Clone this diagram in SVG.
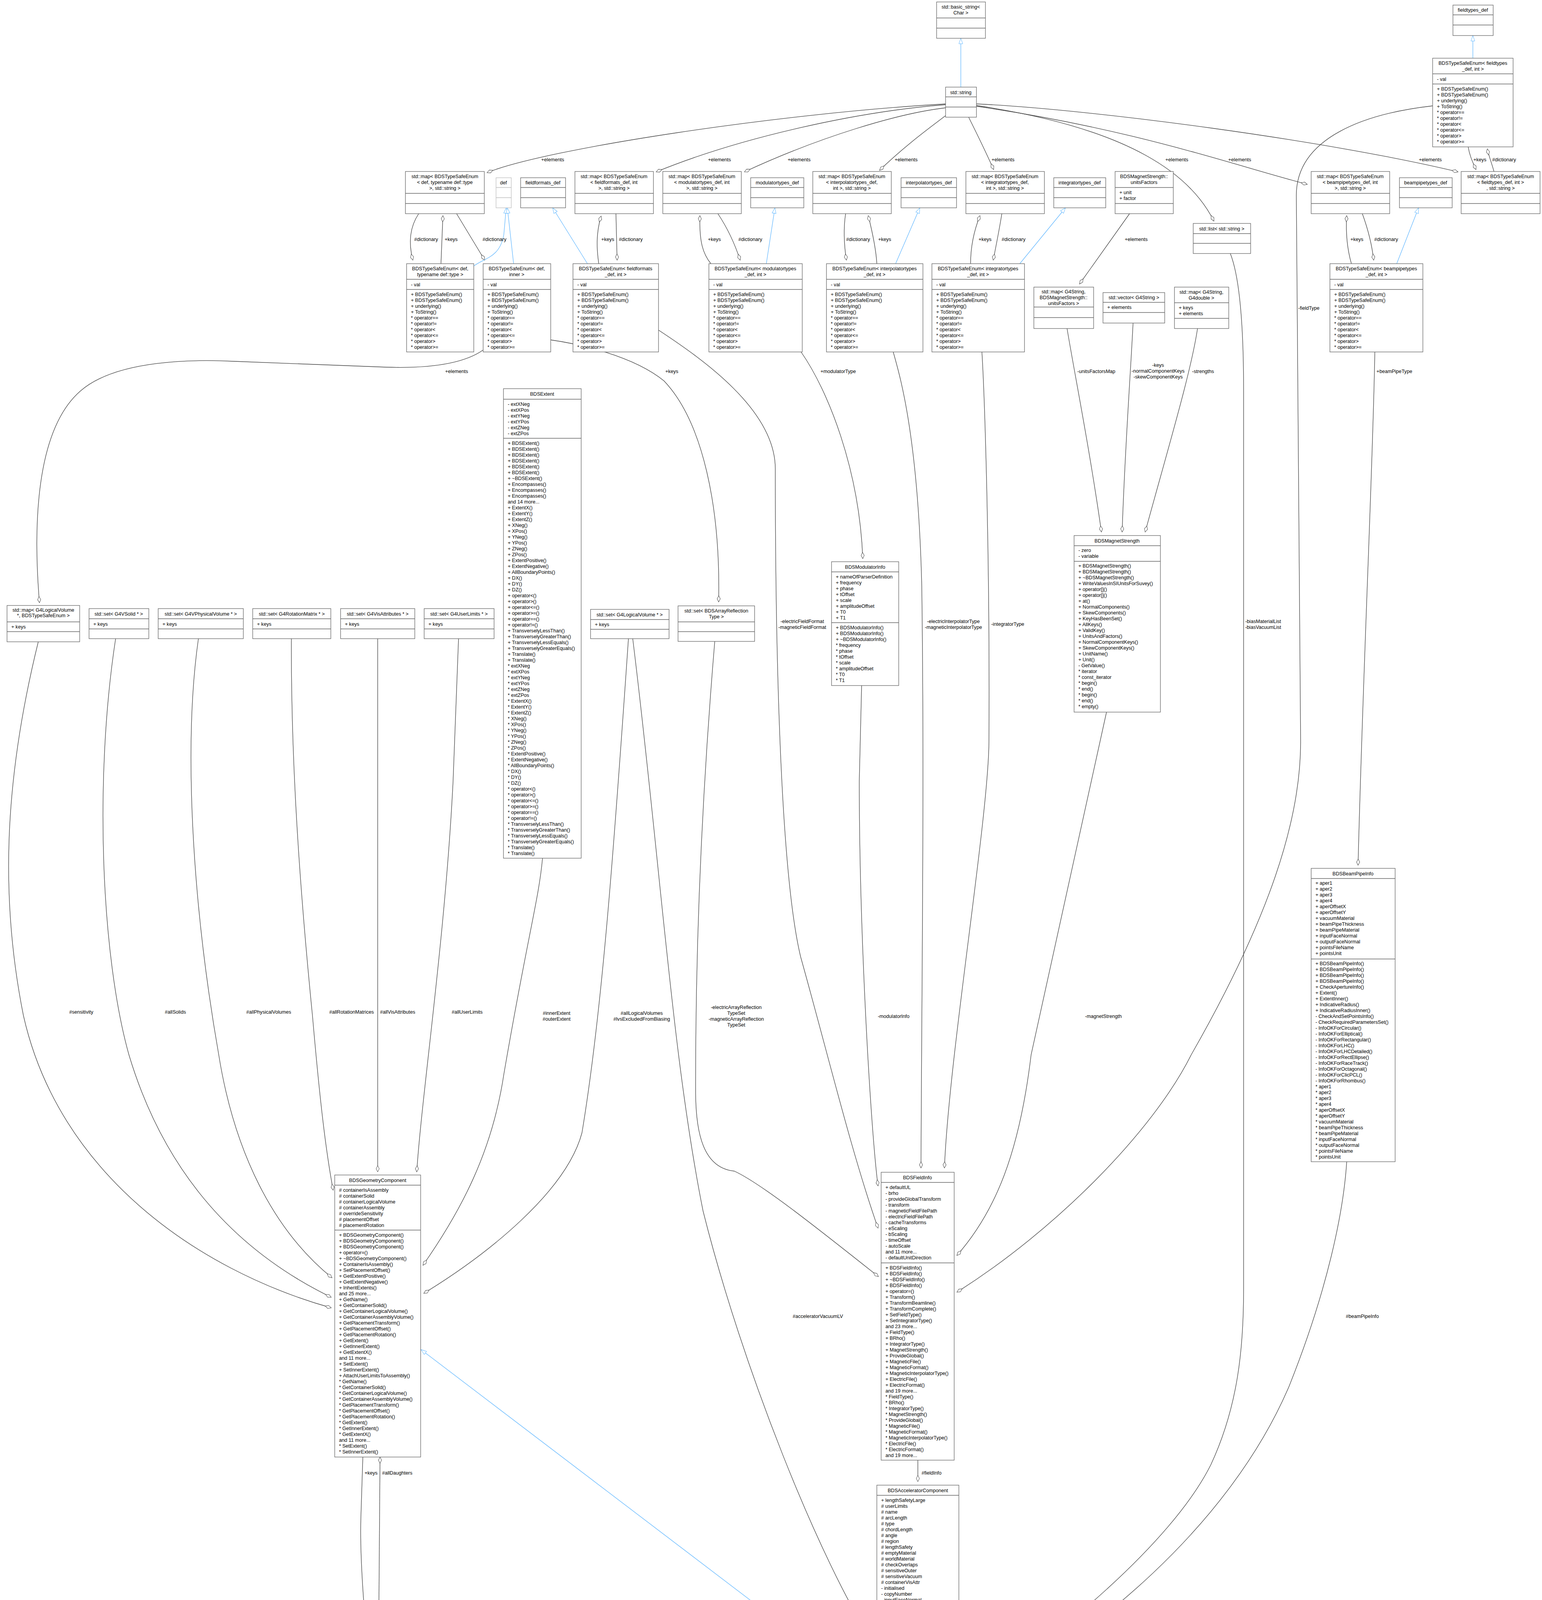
<svg xmlns="http://www.w3.org/2000/svg" width="3948" height="6014" viewBox="0 0 3948 6014">
<style>
.b{fill:#fff;stroke:#666;stroke-width:1.3}
.g{fill:#fff;stroke:#bfbfbf;stroke-width:1.3}
.h{fill:#999;stroke:#666;stroke-width:1.3}
.l{stroke:#666;stroke-width:1.3}
text{font-family:"Liberation Sans",Arial,sans-serif;font-size:12.6px;fill:#000}
.c{text-anchor:middle}
.e{fill:none;stroke:#404040;stroke-width:1.3}
.i{fill:none;stroke:#63b8ff;stroke-width:1.3}
</style>
<defs>
<marker id="d" markerWidth="18" markerHeight="10" refX="1" refY="5" orient="auto" markerUnits="userSpaceOnUse"><path d="M1,5 L9,1 L17,5 L9,9 Z" fill="#fff" stroke="#404040"/></marker>
<marker id="a" markerWidth="16" markerHeight="12" refX="15" refY="6" orient="auto" markerUnits="userSpaceOnUse"><path d="M1,1 L15,6 L1,11 Z" fill="#fff" stroke="#63b8ff"/></marker>
</defs>
<rect width="3948" height="6014" fill="#fff"/>

<g id="edges">
<g marker-start="url(#d)" class="e">
<path d="M1247,442 C1400,380 2000,290 2421,266"/>
<path d="M1680,440 C1900,350 2200,285 2421,268"/>
<path d="M1906,440 C2100,350 2300,290 2421,276"/>
<path d="M2252,436 C2320,370 2390,320 2421,296"/>
<path d="M2544,434 C2520,380 2495,330 2480,300"/>
<path d="M3108,566 C3050,450 2900,330 2500,270"/>
<path d="M3347,472 C3150,420 2900,330 2500,272"/>
<path d="M3733,440 C3400,360 2800,280 2500,266"/>
<path d="M1057,666 C1045,620 1050,580 1072,547"/>
<path d="M1134,552 L1129,675"/>
<path d="M1241,666 L1169,547"/>
<path d="M1539,553 C1525,600 1528,640 1533,675"/>
<path d="M1580,666 L1577,547"/>
<path d="M1792,552 C1790,620 1800,650 1820,675"/>
<path d="M1895,666 C1880,620 1860,580 1838,547"/>
<path d="M2167,666 C2160,620 2160,580 2165,547"/>
<path d="M2223,552 C2235,600 2243,640 2245,675"/>
<path d="M2509,552 C2490,600 2485,640 2485,675"/>
<path d="M2543,666 C2552,620 2560,580 2565,547"/>
<path d="M3448,552 C3445,600 3450,640 3460,675"/>
<path d="M3517,666 C3512,620 3500,580 3488,547"/>
<path d="M3779,434 C3768,410 3762,395 3759,376"/>
<path d="M3808,381 C3812,400 3820,420 3825,439"/>
<path d="M2764,727 L2892,547"/>
<path d="M101,1543 C85,1350 90,1100 207,1000 C300,920 500,920 600,925 L990,940 C1150,945 1210,915 1237,896"/>
<path d="M1840,1541 C1845,1300 1800,1080 1700,975 C1620,910 1480,880 1409,870"/>
<path d="M2248,3144 C2180,2950 2120,2700 2050,2450 C1990,2200 1985,1500 1985,1200 C1985,1050 1800,920 1686,845"/>
<path d="M2209,1430 C2200,1200 2120,1000 2051,901"/>
<path d="M2248,3036 C2230,2900 2200,2400 2200,2000 L2206,1755"/>
<path d="M2358,2990 C2360,2500 2367,2000 2360,1500 C2350,1100 2300,950 2287,901"/>
<path d="M2418,2990 C2430,2700 2530,2100 2532,1900 C2535,1400 2520,1000 2514,901"/>
<path d="M2450,3214 C2550,3100 2610,2950 2640,2700 L2833,1823"/>
<path d="M2450,3308 C2700,3150 2950,2900 3050,2700 C3250,2350 3330,2100 3330,1900 L3319,500 C3319,350 3500,290 3668,271"/>
<path d="M2460,4355 C2700,4200 3000,3950 3100,3750 C3170,3600 3184,3450 3184,3300 L3184,1000 C3184,800 3170,700 3150,649"/>
<path d="M2461,4371 C2800,4200 3150,3900 3300,3550 C3400,3300 3440,3100 3448,2974"/>
<path d="M3477,2215 C3490,1700 3515,1200 3520,901"/>
<path d="M2820,1362 C2790,1150 2750,950 2732,841"/>
<path d="M2873,1362 C2880,1150 2895,950 2901,827"/>
<path d="M2932,1362 C2990,1150 3050,950 3066,841"/>
<path d="M848,3348 C500,3250 150,3000 60,2600 C0,2300 10,2000 98,1643"/>
<path d="M848,3321 C600,3200 420,3000 330,2700 C260,2450 240,2000 296,1635"/>
<path d="M850,3271 C700,3150 600,2950 560,2700 C490,2300 470,1900 508,1635"/>
<path d="M853,3047 C835,2950 820,2830 800,2600 C760,2200 745,1900 746,1635"/>
<path d="M967,3000 L967,1635"/>
<path d="M1067,3000 C1080,2800 1140,2400 1160,2000 L1174,1635"/>
<path d="M1083,3239 C1180,3100 1260,2950 1290,2750 C1350,2400 1380,2300 1389,2197"/>
<path d="M1085,3311 C1250,3210 1450,3050 1490,2900 C1540,2600 1570,2200 1609,1635"/>
<path d="M2240,4213 C2100,4000 1900,3500 1800,3100 C1720,2700 1690,2200 1620,1635"/>
<path d="M2249,3268 C2100,3150 1950,3030 1880,2998 C1800,2990 1782,2900 1781,2800 C1780,2400 1800,2000 1830,1642"/>
<path d="M962,4388 C940,4250 920,4000 924,3884 L929,3730"/>
<path d="M973,3730 L968,4388"/>
<path d="M2350,3793 L2350,3738"/>
<path d="M2344,5049 C2350,5150 2380,5280 2428,5361"/>
</g>
<g marker-end="url(#a)" class="i">
<path d="M2460,223 L2460,98"/>
<path d="M1213,681 C1240,660 1280,660 1290,600 L1296,532"/>
<path d="M1315,675 L1299,532"/>
<path d="M1504,675 L1415,532"/>
<path d="M1962,675 L1984,532"/>
<path d="M2293,675 L2355,532"/>
<path d="M2611,675 L2728,532"/>
<path d="M3576,675 L3632,532"/>
<path d="M3771,149 L3771,91"/>
<path d="M2245,4343 L1078,3455"/>
<path d="M2270,5129 L2278,5049"/>
<path d="M2466,5361 C2460,5250 2452,5150 2448,5049"/>
<path d="M2233,5826 L2233,5774"/>
</g>
<g class="c">
<text x="1415" y="413">+elements</text><text x="1842" y="413">+elements</text><text x="2046" y="413">+elements</text><text x="2320" y="413">+elements</text><text x="2568" y="413">+elements</text><text x="3013" y="413">+elements</text><text x="3174" y="413">+elements</text><text x="3662" y="413">+elements</text>
<text x="3789" y="413">+keys</text><text x="3851" y="413">#dictionary</text>
<text x="1091" y="617">#dictionary</text><text x="1155" y="617">+keys</text><text x="1266" y="617">#dictionary</text><text x="1556" y="617">+keys</text><text x="1615" y="617">#dictionary</text><text x="1829" y="617">+keys</text><text x="1921" y="617">#dictionary</text><text x="2197" y="617">#dictionary</text><text x="2265" y="617">+keys</text><text x="2522" y="617">+keys</text><text x="2595" y="617">#dictionary</text><text x="2909" y="617">+elements</text><text x="3474" y="617">+keys</text><text x="3549" y="617">#dictionary</text>
<text x="3351" y="793">-fieldType</text>
<text x="1169" y="955">+elements</text><text x="1720" y="955">+keys</text><text x="2146" y="955">+modulatorType</text><text x="2807" y="955">-unitsFactorsMap</text><text x="3080" y="955">-strengths</text><text x="3570" y="955">+beamPipeType</text>
<text x="2965" y="939">-keys</text><text x="2965" y="954">-normalComponentKeys</text><text x="2965" y="969">-skewComponentKeys</text>
<text x="2054" y="1595">-electricFieldFormat</text><text x="2054" y="1610">-magneticFieldFormat</text>
<text x="2441" y="1595">-electricInterpolatorType</text><text x="2441" y="1610">-magneticInterpolatorType</text>
<text x="2580" y="1602">-integratorType</text>
<text x="3234" y="1595">-biasMaterialList</text><text x="3234" y="1610">-biasVacuumList</text>
<text x="208" y="2595">#sensitivity</text><text x="449" y="2595">#allSolids</text><text x="688" y="2595">#allPhysicalVolumes</text><text x="900" y="2595">#allRotationMatrices</text><text x="1018" y="2595">#allVisAttributes</text><text x="1196" y="2595">#allUserLimits</text>
<text x="1425" y="2598">#innerExtent</text><text x="1425" y="2613">#outerExtent</text>
<text x="1643" y="2598">#allLogicalVolumes</text><text x="1643" y="2613">#lvsExcludedFromBiasing</text>
<text x="1885" y="2583">-electricArrayReflection</text><text x="1885" y="2598">TypeSet</text><text x="1885" y="2613">-magneticArrayReflection</text><text x="1885" y="2628">TypeSet</text>
<text x="2288" y="2606">-modulatorInfo</text><text x="2825" y="2606">-magnetStrength</text>
<text x="2094" y="3374">#acceleratorVacuumLV</text><text x="3488" y="3374">#beamPipeInfo</text>
<text x="950" y="3775">+keys</text><text x="1017" y="3775">#allDaughters</text><text x="2385" y="3775">#fieldInfo</text>
<text x="2400" y="5085">#endPieceAfter</text><text x="2400" y="5100">#endPieceBefore</text>
</g>
</g>

<g id="basic_string"><rect class="b" x="2398" y="5" width="125" height="93"/><path class="l" d="M2398,46H2523M2398,72H2523"/><text class="c" x="2460" y="22">std::basic_string&lt;</text><text class="c" x="2460" y="37">Char &gt;</text></g>
<g id="string"><rect class="b" x="2421" y="223" width="79" height="77"/><path class="l" d="M2421,248H2500M2421,274H2500"/><text class="c" x="2460" y="241">std::string</text></g>

<g id="map_def"><rect class="b" x="1038" y="439" width="202" height="108"/><path class="l" d="M1038,495H1240M1038,521H1240"/><text class="c" x="1139" y="456">std::map&lt; BDSTypeSafeEnum</text><text class="c" x="1139" y="471">&lt; def, typename def::type</text><text class="c" x="1139" y="486">&gt;, std::string &gt;</text></g>
<g id="def"><rect class="g" x="1270" y="455" width="39" height="77"/><path d="M1270,480H1309M1270,506H1309" stroke="#bfbfbf" stroke-width="1.3"/><text class="c" x="1289" y="472">def</text></g>
<g id="fieldformats_def"><rect class="b" x="1333" y="455" width="115" height="77"/><path class="l" d="M1333,480H1448M1333,506H1448"/><text class="c" x="1390" y="472">fieldformats_def</text></g>
<g id="map_fieldformats"><rect class="b" x="1472" y="439" width="201" height="108"/><path class="l" d="M1472,495H1673M1472,521H1673"/><text class="c" x="1572" y="456">std::map&lt; BDSTypeSafeEnum</text><text class="c" x="1572" y="471">&lt; fieldformats_def, int</text><text class="c" x="1572" y="486">&gt;, std::string &gt;</text></g>
<g id="map_modulatortypes"><rect class="b" x="1697" y="439" width="201" height="108"/><path class="l" d="M1697,495H1898M1697,521H1898"/><text class="c" x="1797" y="456">std::map&lt; BDSTypeSafeEnum</text><text class="c" x="1797" y="471">&lt; modulatortypes_def, int</text><text class="c" x="1797" y="486">&gt;, std::string &gt;</text></g>
<g id="modulatortypes_def"><rect class="b" x="1922" y="455" width="136" height="77"/><path class="l" d="M1922,480H2058M1922,506H2058"/><text class="c" x="1990" y="472">modulatortypes_def</text></g>
<g id="map_interpolatortypes"><rect class="b" x="2081" y="439" width="201" height="108"/><path class="l" d="M2081,495H2282M2081,521H2282"/><text class="c" x="2181" y="456">std::map&lt; BDSTypeSafeEnum</text><text class="c" x="2181" y="471">&lt; interpolatortypes_def,</text><text class="c" x="2181" y="486">int &gt;, std::string &gt;</text></g>
<g id="interpolatortypes_def"><rect class="b" x="2307" y="455" width="142" height="77"/><path class="l" d="M2307,480H2449M2307,506H2449"/><text class="c" x="2378" y="472">interpolatortypes_def</text></g>
<g id="map_integratortypes"><rect class="b" x="2473" y="439" width="201" height="108"/><path class="l" d="M2473,495H2674M2473,521H2674"/><text class="c" x="2573" y="456">std::map&lt; BDSTypeSafeEnum</text><text class="c" x="2573" y="471">&lt; integratortypes_def,</text><text class="c" x="2573" y="486">int &gt;, std::string &gt;</text></g>
<g id="integratortypes_def"><rect class="b" x="2698" y="455" width="133" height="77"/><path class="l" d="M2698,480H2831M2698,506H2831"/><text class="c" x="2764" y="472">integratortypes_def</text></g>
<g id="unitsFactors"><rect class="b" x="2855" y="439" width="149" height="108"/><path class="l" d="M2855,480H3004M2855,521H3004"/><text class="c" x="2929" y="456">BDSMagnetStrength::</text><text class="c" x="2929" y="471">unitsFactors</text><text x="2866" y="497">+ unit</text><text x="2866" y="512">+ factor</text></g>
<g id="list_string"><rect class="b" x="3055" y="572" width="147" height="77"/><path class="l" d="M3055,598H3202M3055,623H3202"/><text class="c" x="3128" y="590">std::list&lt; std::string &gt;</text></g>
<g id="map_beampipetypes"><rect class="b" x="3357" y="439" width="201" height="108"/><path class="l" d="M3357,495H3558M3357,521H3558"/><text class="c" x="3457" y="456">std::map&lt; BDSTypeSafeEnum</text><text class="c" x="3457" y="471">&lt; beampipetypes_def, int</text><text class="c" x="3457" y="486">&gt;, std::string &gt;</text></g>
<g id="beampipetypes_def"><rect class="b" x="3583" y="455" width="135" height="77"/><path class="l" d="M3583,480H3718M3583,506H3718"/><text class="c" x="3650" y="472">beampipetypes_def</text></g>
<g id="map_fieldtypes"><rect class="b" x="3741" y="439" width="202" height="108"/><path class="l" d="M3741,495H3943M3741,521H3943"/><text class="c" x="3842" y="456">std::map&lt; BDSTypeSafeEnum</text><text class="c" x="3842" y="471">&lt; fieldtypes_def, int &gt;</text><text class="c" x="3842" y="486">, std::string &gt;</text></g>
<g id="fieldtypes_def"><rect class="b" x="3720" y="13" width="103" height="78"/><path class="l" d="M3720,38H3823M3720,64H3823"/><text class="c" x="3771" y="30">fieldtypes_def</text></g>

<g id="enum_fieldtypes"><rect class="b" x="3668" y="149" width="206" height="227"/><path class="l" d="M3668,189H3874M3668,215H3874"/><text class="c" x="3771" y="166">BDSTypeSafeEnum&lt; fieldtypes</text><text class="c" x="3771" y="181">_def, int &gt;</text><text x="3679" y="207">- val</text><text y="232"><tspan x="3679">+ BDSTypeSafeEnum()</tspan><tspan x="3679" dy="15">+ BDSTypeSafeEnum()</tspan><tspan x="3679" dy="15">+ underlying()</tspan><tspan x="3679" dy="15">+ ToString()</tspan><tspan x="3679" dy="15">* operator==</tspan><tspan x="3679" dy="15">* operator!=</tspan><tspan x="3679" dy="15">* operator&lt;</tspan><tspan x="3679" dy="15">* operator&lt;=</tspan><tspan x="3679" dy="15">* operator&gt;</tspan><tspan x="3679" dy="15">* operator&gt;=</tspan></text></g>

<g id="enum_def_type"><rect class="b" x="1041" y="675" width="172" height="226"/><path class="l" d="M1041,715H1213M1041,741H1213"/><text class="c" x="1127" y="692">BDSTypeSafeEnum&lt; def,</text><text class="c" x="1127" y="707">typename def::type &gt;</text><text x="1052" y="733">- val</text><text y="758"><tspan x="1052">+ BDSTypeSafeEnum()</tspan><tspan x="1052" dy="15">+ BDSTypeSafeEnum()</tspan><tspan x="1052" dy="15">+ underlying()</tspan><tspan x="1052" dy="15">+ ToString()</tspan><tspan x="1052" dy="15">* operator==</tspan><tspan x="1052" dy="15">* operator!=</tspan><tspan x="1052" dy="15">* operator&lt;</tspan><tspan x="1052" dy="15">* operator&lt;=</tspan><tspan x="1052" dy="15">* operator&gt;</tspan><tspan x="1052" dy="15">* operator&gt;=</tspan></text></g>
<g id="enum_def_inner"><rect class="b" x="1237" y="675" width="173" height="226"/><path class="l" d="M1237,715H1410M1237,741H1410"/><text class="c" x="1323" y="692">BDSTypeSafeEnum&lt; def,</text><text class="c" x="1323" y="707">inner &gt;</text><text x="1248" y="733">- val</text><text y="758"><tspan x="1248">+ BDSTypeSafeEnum()</tspan><tspan x="1248" dy="15">+ BDSTypeSafeEnum()</tspan><tspan x="1248" dy="15">+ underlying()</tspan><tspan x="1248" dy="15">+ ToString()</tspan><tspan x="1248" dy="15">* operator==</tspan><tspan x="1248" dy="15">* operator!=</tspan><tspan x="1248" dy="15">* operator&lt;</tspan><tspan x="1248" dy="15">* operator&lt;=</tspan><tspan x="1248" dy="15">* operator&gt;</tspan><tspan x="1248" dy="15">* operator&gt;=</tspan></text></g>
<g id="enum_fieldformats"><rect class="b" x="1467" y="675" width="219" height="226"/><path class="l" d="M1467,715H1686M1467,741H1686"/><text class="c" x="1576" y="692">BDSTypeSafeEnum&lt; fieldformats</text><text class="c" x="1576" y="707">_def, int &gt;</text><text x="1478" y="733">- val</text><text y="758"><tspan x="1478">+ BDSTypeSafeEnum()</tspan><tspan x="1478" dy="15">+ BDSTypeSafeEnum()</tspan><tspan x="1478" dy="15">+ underlying()</tspan><tspan x="1478" dy="15">+ ToString()</tspan><tspan x="1478" dy="15">* operator==</tspan><tspan x="1478" dy="15">* operator!=</tspan><tspan x="1478" dy="15">* operator&lt;</tspan><tspan x="1478" dy="15">* operator&lt;=</tspan><tspan x="1478" dy="15">* operator&gt;</tspan><tspan x="1478" dy="15">* operator&gt;=</tspan></text></g>
<g id="enum_modulatortypes"><rect class="b" x="1815" y="675" width="239" height="226"/><path class="l" d="M1815,715H2054M1815,741H2054"/><text class="c" x="1934" y="692">BDSTypeSafeEnum&lt; modulatortypes</text><text class="c" x="1934" y="707">_def, int &gt;</text><text x="1826" y="733">- val</text><text y="758"><tspan x="1826">+ BDSTypeSafeEnum()</tspan><tspan x="1826" dy="15">+ BDSTypeSafeEnum()</tspan><tspan x="1826" dy="15">+ underlying()</tspan><tspan x="1826" dy="15">+ ToString()</tspan><tspan x="1826" dy="15">* operator==</tspan><tspan x="1826" dy="15">* operator!=</tspan><tspan x="1826" dy="15">* operator&lt;</tspan><tspan x="1826" dy="15">* operator&lt;=</tspan><tspan x="1826" dy="15">* operator&gt;</tspan><tspan x="1826" dy="15">* operator&gt;=</tspan></text></g>
<g id="enum_interpolatortypes"><rect class="b" x="2116" y="675" width="247" height="226"/><path class="l" d="M2116,715H2363M2116,741H2363"/><text class="c" x="2239" y="692">BDSTypeSafeEnum&lt; interpolatortypes</text><text class="c" x="2239" y="707">_def, int &gt;</text><text x="2127" y="733">- val</text><text y="758"><tspan x="2127">+ BDSTypeSafeEnum()</tspan><tspan x="2127" dy="15">+ BDSTypeSafeEnum()</tspan><tspan x="2127" dy="15">+ underlying()</tspan><tspan x="2127" dy="15">+ ToString()</tspan><tspan x="2127" dy="15">* operator==</tspan><tspan x="2127" dy="15">* operator!=</tspan><tspan x="2127" dy="15">* operator&lt;</tspan><tspan x="2127" dy="15">* operator&lt;=</tspan><tspan x="2127" dy="15">* operator&gt;</tspan><tspan x="2127" dy="15">* operator&gt;=</tspan></text></g>
<g id="enum_integratortypes"><rect class="b" x="2386" y="675" width="237" height="226"/><path class="l" d="M2386,715H2623M2386,741H2623"/><text class="c" x="2504" y="692">BDSTypeSafeEnum&lt; integratortypes</text><text class="c" x="2504" y="707">_def, int &gt;</text><text x="2397" y="733">- val</text><text y="758"><tspan x="2397">+ BDSTypeSafeEnum()</tspan><tspan x="2397" dy="15">+ BDSTypeSafeEnum()</tspan><tspan x="2397" dy="15">+ underlying()</tspan><tspan x="2397" dy="15">+ ToString()</tspan><tspan x="2397" dy="15">* operator==</tspan><tspan x="2397" dy="15">* operator!=</tspan><tspan x="2397" dy="15">* operator&lt;</tspan><tspan x="2397" dy="15">* operator&lt;=</tspan><tspan x="2397" dy="15">* operator&gt;</tspan><tspan x="2397" dy="15">* operator&gt;=</tspan></text></g>
<g id="enum_beampipetypes"><rect class="b" x="3405" y="675" width="238" height="226"/><path class="l" d="M3405,715H3643M3405,741H3643"/><text class="c" x="3524" y="692">BDSTypeSafeEnum&lt; beampipetypes</text><text class="c" x="3524" y="707">_def, int &gt;</text><text x="3416" y="733">- val</text><text y="758"><tspan x="3416">+ BDSTypeSafeEnum()</tspan><tspan x="3416" dy="15">+ BDSTypeSafeEnum()</tspan><tspan x="3416" dy="15">+ underlying()</tspan><tspan x="3416" dy="15">+ ToString()</tspan><tspan x="3416" dy="15">* operator==</tspan><tspan x="3416" dy="15">* operator!=</tspan><tspan x="3416" dy="15">* operator&lt;</tspan><tspan x="3416" dy="15">* operator&lt;=</tspan><tspan x="3416" dy="15">* operator&gt;</tspan><tspan x="3416" dy="15">* operator&gt;=</tspan></text></g>

<g id="map_G4String_unitsFactors"><rect class="b" x="2647" y="735" width="153" height="106"/><path class="l" d="M2647,786H2800M2647,813H2800"/><text class="c" x="2723" y="751">std::map&lt; G4String,</text><text class="c" x="2723" y="766">BDSMagnetStrength::</text><text class="c" x="2723" y="781">unitsFactors &gt;</text></g>
<g id="vector_G4String"><rect class="b" x="2824" y="749" width="158" height="78"/><path class="l" d="M2824,774H2982M2824,800H2982"/><text class="c" x="2903" y="766">std::vector&lt; G4String &gt;</text><text x="2835" y="791">+ elements</text></g>
<g id="map_G4String_G4double"><rect class="b" x="3007" y="735" width="139" height="106"/><path class="l" d="M3007,775H3146M3007,815H3146"/><text class="c" x="3076" y="752">std::map&lt; G4String,</text><text class="c" x="3076" y="767">G4double &gt;</text><text x="3018" y="792">+ keys</text><text x="3018" y="807">+ elements</text></g>

<g id="map_G4LV_enum"><rect class="b" x="18" y="1550" width="186" height="93"/><path class="l" d="M18,1592H204M18,1617H204"/><text class="c" x="111" y="1566">std::map&lt; G4LogicalVolume</text><text class="c" x="111" y="1580">*, BDSTypeSafeEnum &gt;</text><text x="29" y="1609">+ keys</text></g>
<g id="set_G4VSolid"><rect class="b" x="228" y="1558" width="153" height="77"/><path class="l" d="M228,1584H381M228,1610H381"/><text class="c" x="304" y="1576">std::set&lt; G4VSolid * &gt;</text><text x="239" y="1602">+ keys</text></g>
<g id="set_G4VPhysicalVolume"><rect class="b" x="405" y="1558" width="218" height="77"/><path class="l" d="M405,1584H623M405,1610H623"/><text class="c" x="514" y="1576">std::set&lt; G4VPhysicalVolume * &gt;</text><text x="416" y="1602">+ keys</text></g>
<g id="set_G4RotationMatrix"><rect class="b" x="647" y="1558" width="200" height="77"/><path class="l" d="M647,1584H847M647,1610H847"/><text class="c" x="747" y="1576">std::set&lt; G4RotationMatrix * &gt;</text><text x="658" y="1602">+ keys</text></g>
<g id="set_G4VisAttributes"><rect class="b" x="872" y="1558" width="190" height="77"/><path class="l" d="M872,1584H1062M872,1610H1062"/><text class="c" x="967" y="1576">std::set&lt; G4VisAttributes * &gt;</text><text x="883" y="1602">+ keys</text></g>
<g id="set_G4UserLimits"><rect class="b" x="1086" y="1558" width="179" height="77"/><path class="l" d="M1086,1584H1265M1086,1610H1265"/><text class="c" x="1175" y="1576">std::set&lt; G4UserLimits * &gt;</text><text x="1097" y="1602">+ keys</text></g>
<g id="set_G4LogicalVolume"><rect class="b" x="1512" y="1560" width="201" height="75"/><path class="l" d="M1512,1586H1713M1512,1611H1713"/><text class="c" x="1612" y="1578">std::set&lt; G4LogicalVolume * &gt;</text><text x="1523" y="1603">+ keys</text></g>
<g id="set_ArrayReflection"><rect class="b" x="1736" y="1551" width="196" height="91"/><path class="l" d="M1736,1592H1932M1736,1617H1932"/><text class="c" x="1834" y="1568">std::set&lt; BDSArrayReflection</text><text class="c" x="1834" y="1583">Type &gt;</text></g>

<g id="BDSExtent"><rect class="b" x="1289" y="995" width="199" height="1202"/><path class="l" d="M1289,1022H1488M1289,1122H1488"/><text class="c" x="1388" y="1013">BDSExtent</text>
<text y="1039"><tspan x="1300">- extXNeg</tspan><tspan x="1300" dy="15">- extXPos</tspan><tspan x="1300" dy="15">- extYNeg</tspan><tspan x="1300" dy="15">- extYPos</tspan><tspan x="1300" dy="15">- extZNeg</tspan><tspan x="1300" dy="15">- extZPos</tspan></text>
<text y="1139"><tspan x="1300">+ BDSExtent()</tspan><tspan x="1300" dy="15">+ BDSExtent()</tspan><tspan x="1300" dy="15">+ BDSExtent()</tspan><tspan x="1300" dy="15">+ BDSExtent()</tspan><tspan x="1300" dy="15">+ BDSExtent()</tspan><tspan x="1300" dy="15">+ BDSExtent()</tspan><tspan x="1300" dy="15">+ ~BDSExtent()</tspan><tspan x="1300" dy="15">+ Encompasses()</tspan><tspan x="1300" dy="15">+ Encompasses()</tspan><tspan x="1300" dy="15">+ Encompasses()</tspan><tspan x="1300" dy="15">and 14 more...</tspan><tspan x="1300" dy="15">+ ExtentX()</tspan><tspan x="1300" dy="15">+ ExtentY()</tspan><tspan x="1300" dy="15">+ ExtentZ()</tspan><tspan x="1300" dy="15">+ XNeg()</tspan><tspan x="1300" dy="15">+ XPos()</tspan><tspan x="1300" dy="15">+ YNeg()</tspan><tspan x="1300" dy="15">+ YPos()</tspan><tspan x="1300" dy="15">+ ZNeg()</tspan><tspan x="1300" dy="15">+ ZPos()</tspan><tspan x="1300" dy="15">+ ExtentPositive()</tspan><tspan x="1300" dy="15">+ ExtentNegative()</tspan><tspan x="1300" dy="15">+ AllBoundaryPoints()</tspan><tspan x="1300" dy="15">+ DX()</tspan><tspan x="1300" dy="15">+ DY()</tspan><tspan x="1300" dy="15">+ DZ()</tspan><tspan x="1300" dy="15">+ operator&lt;()</tspan><tspan x="1300" dy="15">+ operator&gt;()</tspan><tspan x="1300" dy="15">+ operator&lt;=()</tspan><tspan x="1300" dy="15">+ operator&gt;=()</tspan><tspan x="1300" dy="15">+ operator==()</tspan><tspan x="1300" dy="15">+ operator!=()</tspan><tspan x="1300" dy="15">+ TransverselyLessThan()</tspan><tspan x="1300" dy="15">+ TransverselyGreaterThan()</tspan><tspan x="1300" dy="15">+ TransverselyLessEquals()</tspan><tspan x="1300" dy="15">+ TransverselyGreaterEquals()</tspan><tspan x="1300" dy="15">+ Translate()</tspan><tspan x="1300" dy="15">+ Translate()</tspan><tspan x="1300" dy="15">* extXNeg</tspan><tspan x="1300" dy="15">* extXPos</tspan><tspan x="1300" dy="15">* extYNeg</tspan><tspan x="1300" dy="15">* extYPos</tspan><tspan x="1300" dy="15">* extZNeg</tspan><tspan x="1300" dy="15">* extZPos</tspan><tspan x="1300" dy="15">* ExtentX()</tspan><tspan x="1300" dy="15">* ExtentY()</tspan><tspan x="1300" dy="15">* ExtentZ()</tspan><tspan x="1300" dy="15">* XNeg()</tspan><tspan x="1300" dy="15">* XPos()</tspan><tspan x="1300" dy="15">* YNeg()</tspan><tspan x="1300" dy="15">* YPos()</tspan><tspan x="1300" dy="15">* ZNeg()</tspan><tspan x="1300" dy="15">* ZPos()</tspan><tspan x="1300" dy="15">* ExtentPositive()</tspan><tspan x="1300" dy="15">* ExtentNegative()</tspan><tspan x="1300" dy="15">* AllBoundaryPoints()</tspan><tspan x="1300" dy="15">* DX()</tspan><tspan x="1300" dy="15">* DY()</tspan><tspan x="1300" dy="15">* DZ()</tspan><tspan x="1300" dy="15">* operator&lt;()</tspan><tspan x="1300" dy="15">* operator&gt;()</tspan><tspan x="1300" dy="15">* operator&lt;=()</tspan><tspan x="1300" dy="15">* operator&gt;=()</tspan><tspan x="1300" dy="15">* operator==()</tspan><tspan x="1300" dy="15">* operator!=()</tspan><tspan x="1300" dy="15">* TransverselyLessThan()</tspan><tspan x="1300" dy="15">* TransverselyGreaterThan()</tspan><tspan x="1300" dy="15">* TransverselyLessEquals()</tspan><tspan x="1300" dy="15">* TransverselyGreaterEquals()</tspan><tspan x="1300" dy="15">* Translate()</tspan><tspan x="1300" dy="15">* Translate()</tspan></text></g>

<g id="BDSModulatorInfo"><rect class="b" x="2129" y="1438" width="172" height="317"/><path class="l" d="M2129,1464H2301M2129,1594H2301"/><text class="c" x="2215" y="1456">BDSModulatorInfo</text>
<text y="1481"><tspan x="2140">+ nameOfParserDefinition</tspan><tspan x="2140" dy="15">+ frequency</tspan><tspan x="2140" dy="15">+ phase</tspan><tspan x="2140" dy="15">+ tOffset</tspan><tspan x="2140" dy="15">+ scale</tspan><tspan x="2140" dy="15">+ amplitudeOffset</tspan><tspan x="2140" dy="15">+ T0</tspan><tspan x="2140" dy="15">+ T1</tspan></text>
<text y="1611"><tspan x="2140">+ BDSModulatorInfo()</tspan><tspan x="2140" dy="15">+ BDSModulatorInfo()</tspan><tspan x="2140" dy="15">+ ~BDSModulatorInfo()</tspan><tspan x="2140" dy="15">* frequency</tspan><tspan x="2140" dy="15">* phase</tspan><tspan x="2140" dy="15">* tOffset</tspan><tspan x="2140" dy="15">* scale</tspan><tspan x="2140" dy="15">* amplitudeOffset</tspan><tspan x="2140" dy="15">* T0</tspan><tspan x="2140" dy="15">* T1</tspan></text></g>

<g id="BDSMagnetStrength"><rect class="b" x="2750" y="1371" width="221" height="452"/><path class="l" d="M2750,1397H2971M2750,1437H2971"/><text class="c" x="2860" y="1389">BDSMagnetStrength</text>
<text y="1413"><tspan x="2761">- zero</tspan><tspan x="2761" dy="15">- variable</tspan></text>
<text y="1453"><tspan x="2761">+ BDSMagnetStrength()</tspan><tspan x="2761" dy="15">+ BDSMagnetStrength()</tspan><tspan x="2761" dy="15">+ ~BDSMagnetStrength()</tspan><tspan x="2761" dy="15">+ WriteValuesInSIUnitsForSuvey()</tspan><tspan x="2761" dy="15">+ operator[]()</tspan><tspan x="2761" dy="15">+ operator[]()</tspan><tspan x="2761" dy="15">+ at()</tspan><tspan x="2761" dy="15">+ NormalComponents()</tspan><tspan x="2761" dy="15">+ SkewComponents()</tspan><tspan x="2761" dy="15">+ KeyHasBeenSet()</tspan><tspan x="2761" dy="15">+ AllKeys()</tspan><tspan x="2761" dy="15">+ ValidKey()</tspan><tspan x="2761" dy="15">+ UnitsAndFactors()</tspan><tspan x="2761" dy="15">+ NormalComponentKeys()</tspan><tspan x="2761" dy="15">+ SkewComponentKeys()</tspan><tspan x="2761" dy="15">+ UnitName()</tspan><tspan x="2761" dy="15">+ Unit()</tspan><tspan x="2761" dy="15">- GetValue()</tspan><tspan x="2761" dy="15">* iterator</tspan><tspan x="2761" dy="15">* const_iterator</tspan><tspan x="2761" dy="15">* begin()</tspan><tspan x="2761" dy="15">* end()</tspan><tspan x="2761" dy="15">* begin()</tspan><tspan x="2761" dy="15">* end()</tspan><tspan x="2761" dy="15">* empty()</tspan></text></g>

<g id="BDSBeamPipeInfo"><rect class="b" x="3357" y="2223" width="215" height="751"/><path class="l" d="M3357,2249H3572M3357,2455H3572"/><text class="c" x="3464" y="2241">BDSBeamPipeInfo</text>
<text y="2265"><tspan x="3368">+ aper1</tspan><tspan x="3368" dy="15">+ aper2</tspan><tspan x="3368" dy="15">+ aper3</tspan><tspan x="3368" dy="15">+ aper4</tspan><tspan x="3368" dy="15">+ aperOffsetX</tspan><tspan x="3368" dy="15">+ aperOffsetY</tspan><tspan x="3368" dy="15">+ vacuumMaterial</tspan><tspan x="3368" dy="15">+ beamPipeThickness</tspan><tspan x="3368" dy="15">+ beamPipeMaterial</tspan><tspan x="3368" dy="15">+ inputFaceNormal</tspan><tspan x="3368" dy="15">+ outputFaceNormal</tspan><tspan x="3368" dy="15">+ pointsFileName</tspan><tspan x="3368" dy="15">+ pointsUnit</tspan></text>
<text y="2471"><tspan x="3368">+ BDSBeamPipeInfo()</tspan><tspan x="3368" dy="15">+ BDSBeamPipeInfo()</tspan><tspan x="3368" dy="15">+ BDSBeamPipeInfo()</tspan><tspan x="3368" dy="15">+ BDSBeamPipeInfo()</tspan><tspan x="3368" dy="15">+ CheckApertureInfo()</tspan><tspan x="3368" dy="15">+ Extent()</tspan><tspan x="3368" dy="15">+ ExtentInner()</tspan><tspan x="3368" dy="15">+ IndicativeRadius()</tspan><tspan x="3368" dy="15">+ IndicativeRadiusInner()</tspan><tspan x="3368" dy="15">- CheckAndSetPointsInfo()</tspan><tspan x="3368" dy="15">- CheckRequiredParametersSet()</tspan><tspan x="3368" dy="15">- InfoOKForCircular()</tspan><tspan x="3368" dy="15">- InfoOKForElliptical()</tspan><tspan x="3368" dy="15">- InfoOKForRectangular()</tspan><tspan x="3368" dy="15">- InfoOKForLHC()</tspan><tspan x="3368" dy="15">- InfoOKForLHCDetailed()</tspan><tspan x="3368" dy="15">- InfoOKForRectEllipse()</tspan><tspan x="3368" dy="15">- InfoOKForRaceTrack()</tspan><tspan x="3368" dy="15">- InfoOKForOctagonal()</tspan><tspan x="3368" dy="15">- InfoOKForClicPCL()</tspan><tspan x="3368" dy="15">- InfoOKForRhombus()</tspan><tspan x="3368" dy="15">* aper1</tspan><tspan x="3368" dy="15">* aper2</tspan><tspan x="3368" dy="15">* aper3</tspan><tspan x="3368" dy="15">* aper4</tspan><tspan x="3368" dy="15">* aperOffsetX</tspan><tspan x="3368" dy="15">* aperOffsetY</tspan><tspan x="3368" dy="15">* vacuumMaterial</tspan><tspan x="3368" dy="15">* beamPipeThickness</tspan><tspan x="3368" dy="15">* beamPipeMaterial</tspan><tspan x="3368" dy="15">* inputFaceNormal</tspan><tspan x="3368" dy="15">* outputFaceNormal</tspan><tspan x="3368" dy="15">* pointsFileName</tspan><tspan x="3368" dy="15">* pointsUnit</tspan></text></g>

<g id="BDSGeometryComponent"><rect class="b" x="857" y="3008" width="220" height="722"/><path class="l" d="M857,3034H1077M857,3149H1077"/><text class="c" x="967" y="3026">BDSGeometryComponent</text>
<text y="3051"><tspan x="868"># containerIsAssembly</tspan><tspan x="868" dy="15"># containerSolid</tspan><tspan x="868" dy="15"># containerLogicalVolume</tspan><tspan x="868" dy="15"># containerAssembly</tspan><tspan x="868" dy="15"># overrideSensitivity</tspan><tspan x="868" dy="15"># placementOffset</tspan><tspan x="868" dy="15"># placementRotation</tspan></text>
<text y="3166"><tspan x="868">+ BDSGeometryComponent()</tspan><tspan x="868" dy="15">+ BDSGeometryComponent()</tspan><tspan x="868" dy="15">+ BDSGeometryComponent()</tspan><tspan x="868" dy="15">+ operator=()</tspan><tspan x="868" dy="15">+ ~BDSGeometryComponent()</tspan><tspan x="868" dy="15">+ ContainerIsAssembly()</tspan><tspan x="868" dy="15">+ SetPlacementOffset()</tspan><tspan x="868" dy="15">+ GetExtentPositive()</tspan><tspan x="868" dy="15">+ GetExtentNegative()</tspan><tspan x="868" dy="15">+ InheritExtents()</tspan><tspan x="868" dy="15">and 25 more...</tspan><tspan x="868" dy="15">+ GetName()</tspan><tspan x="868" dy="15">+ GetContainerSolid()</tspan><tspan x="868" dy="15">+ GetContainerLogicalVolume()</tspan><tspan x="868" dy="15">+ GetContainerAssemblyVolume()</tspan><tspan x="868" dy="15">+ GetPlacementTransform()</tspan><tspan x="868" dy="15">+ GetPlacementOffset()</tspan><tspan x="868" dy="15">+ GetPlacementRotation()</tspan><tspan x="868" dy="15">+ GetExtent()</tspan><tspan x="868" dy="15">+ GetInnerExtent()</tspan><tspan x="868" dy="15">+ GetExtentX()</tspan><tspan x="868" dy="15">and 11 more...</tspan><tspan x="868" dy="15">+ SetExtent()</tspan><tspan x="868" dy="15">+ SetInnerExtent()</tspan><tspan x="868" dy="15">+ AttachUserLimitsToAssembly()</tspan><tspan x="868" dy="15">* GetName()</tspan><tspan x="868" dy="15">* GetContainerSolid()</tspan><tspan x="868" dy="15">* GetContainerLogicalVolume()</tspan><tspan x="868" dy="15">* GetContainerAssemblyVolume()</tspan><tspan x="868" dy="15">* GetPlacementTransform()</tspan><tspan x="868" dy="15">* GetPlacementOffset()</tspan><tspan x="868" dy="15">* GetPlacementRotation()</tspan><tspan x="868" dy="15">* GetExtent()</tspan><tspan x="868" dy="15">* GetInnerExtent()</tspan><tspan x="868" dy="15">* GetExtentX()</tspan><tspan x="868" dy="15">and 11 more...</tspan><tspan x="868" dy="15">* SetExtent()</tspan><tspan x="868" dy="15">* SetInnerExtent()</tspan></text></g>

<g id="set_GeometryComponent"><rect class="b" x="843" y="4388" width="250" height="75"/><path class="l" d="M843,4413H1093M843,4438H1093"/><text class="c" x="968" y="4406">std::set&lt; BDSGeometryComponent * &gt;</text></g>

<g id="BDSFieldInfo"><rect class="b" x="2256" y="3001" width="187" height="737"/><path class="l" d="M2256,3027H2443M2256,3233H2443"/><text class="c" x="2349" y="3019">BDSFieldInfo</text>
<text y="3044"><tspan x="2267">+ defaultUL</tspan><tspan x="2267" dy="15">- brho</tspan><tspan x="2267" dy="15">- provideGlobalTransform</tspan><tspan x="2267" dy="15">- transform</tspan><tspan x="2267" dy="15">- magneticFieldFilePath</tspan><tspan x="2267" dy="15">- electricFieldFilePath</tspan><tspan x="2267" dy="15">- cacheTransforms</tspan><tspan x="2267" dy="15">- eScaling</tspan><tspan x="2267" dy="15">- bScaling</tspan><tspan x="2267" dy="15">- timeOffset</tspan><tspan x="2267" dy="15">- autoScale</tspan><tspan x="2267" dy="15">and 11 more...</tspan><tspan x="2267" dy="15">- defaultUnitDirection</tspan></text>
<text y="3250"><tspan x="2267">+ BDSFieldInfo()</tspan><tspan x="2267" dy="15">+ BDSFieldInfo()</tspan><tspan x="2267" dy="15">+ ~BDSFieldInfo()</tspan><tspan x="2267" dy="15">+ BDSFieldInfo()</tspan><tspan x="2267" dy="15">+ operator=()</tspan><tspan x="2267" dy="15">+ Transform()</tspan><tspan x="2267" dy="15">+ TransformBeamline()</tspan><tspan x="2267" dy="15">+ TransformComplete()</tspan><tspan x="2267" dy="15">+ SetFieldType()</tspan><tspan x="2267" dy="15">+ SetIntegratorType()</tspan><tspan x="2267" dy="15">and 23 more...</tspan><tspan x="2267" dy="15">+ FieldType()</tspan><tspan x="2267" dy="15">+ BRho()</tspan><tspan x="2267" dy="15">+ IntegratorType()</tspan><tspan x="2267" dy="15">+ MagnetStrength()</tspan><tspan x="2267" dy="15">+ ProvideGlobal()</tspan><tspan x="2267" dy="15">+ MagneticFile()</tspan><tspan x="2267" dy="15">+ MagneticFormat()</tspan><tspan x="2267" dy="15">+ MagneticInterpolatorType()</tspan><tspan x="2267" dy="15">+ ElectricFile()</tspan><tspan x="2267" dy="15">+ ElectricFormat()</tspan><tspan x="2267" dy="15">and 19 more...</tspan><tspan x="2267" dy="15">* FieldType()</tspan><tspan x="2267" dy="15">* BRho()</tspan><tspan x="2267" dy="15">* IntegratorType()</tspan><tspan x="2267" dy="15">* MagnetStrength()</tspan><tspan x="2267" dy="15">* ProvideGlobal()</tspan><tspan x="2267" dy="15">* MagneticFile()</tspan><tspan x="2267" dy="15">* MagneticFormat()</tspan><tspan x="2267" dy="15">* MagneticInterpolatorType()</tspan><tspan x="2267" dy="15">* ElectricFile()</tspan><tspan x="2267" dy="15">* ElectricFormat()</tspan><tspan x="2267" dy="15">and 19 more...</tspan></text></g>

<g id="BDSAcceleratorComponent"><rect class="b" x="2245" y="3802" width="210" height="1247"/><path class="l" d="M2245,3828H2455M2245,4123H2455"/><text class="c" x="2350" y="3820">BDSAcceleratorComponent</text>
<text y="3845"><tspan x="2256">+ lengthSafetyLarge</tspan><tspan x="2256" dy="15"># userLimits</tspan><tspan x="2256" dy="15"># name</tspan><tspan x="2256" dy="15"># arcLength</tspan><tspan x="2256" dy="15"># type</tspan><tspan x="2256" dy="15"># chordLength</tspan><tspan x="2256" dy="15"># angle</tspan><tspan x="2256" dy="15"># region</tspan><tspan x="2256" dy="15"># lengthSafety</tspan><tspan x="2256" dy="15"># emptyMaterial</tspan><tspan x="2256" dy="15"># worldMaterial</tspan><tspan x="2256" dy="15"># checkOverlaps</tspan><tspan x="2256" dy="15"># sensitiveOuter</tspan><tspan x="2256" dy="15"># sensitiveVacuum</tspan><tspan x="2256" dy="15"># containerVisAttr</tspan><tspan x="2256" dy="15">- initialised</tspan><tspan x="2256" dy="15">- copyNumber</tspan><tspan x="2256" dy="15">- inputFaceNormal</tspan><tspan x="2256" dy="15">- outputFaceNormal</tspan></text>
<text y="4140"><tspan x="2256">+ BDSAcceleratorComponent()</tspan><tspan x="2256" dy="15">+ ~BDSAcceleratorComponent()</tspan><tspan x="2256" dy="15">+ Initialise()</tspan><tspan x="2256" dy="15">+ SetRegion()</tspan><tspan x="2256" dy="15">+ SetField()</tspan><tspan x="2256" dy="15">+ SetMinimumKineticEnergy()</tspan><tspan x="2256" dy="15">+ GetName()</tspan><tspan x="2256" dy="15">+ GetAngle()</tspan><tspan x="2256" dy="15">+ Sagitta()</tspan><tspan x="2256" dy="15">+ GetType()</tspan><tspan x="2256" dy="15">and 11 more...</tspan><tspan x="2256" dy="15">+ SetBiasVacuumList()</tspan><tspan x="2256" dy="15">+ SetBiasMaterialList()</tspan><tspan x="2256" dy="15">+ GetArcLength()</tspan><tspan x="2256" dy="15">+ GetChordLength()</tspan><tspan x="2256" dy="15">+ InputFaceNormal()</tspan><tspan x="2256" dy="15">+ OutputFaceNormal()</tspan><tspan x="2256" dy="15">+ AngledInputFace()</tspan><tspan x="2256" dy="15">+ AngledOutputFace()</tspan><tspan x="2256" dy="15">+ GetBiasVacuumList()</tspan><tspan x="2256" dy="15">+ GetBiasMaterialList()</tspan><tspan x="2256" dy="15">+ SetInputFaceNormal()</tspan><tspan x="2256" dy="15">+ SetOutputFaceNormal()</tspan><tspan x="2256" dy="15"># Build()</tspan><tspan x="2256" dy="15"># BuildContainerLogicalVolume()</tspan><tspan x="2256" dy="15"># SetAcceleratorVacuumLogical</tspan><tspan x="2256" dy="15">Volume()</tspan><tspan x="2256" dy="15"># SetAcceleratorVacuumLogical</tspan><tspan x="2256" dy="15">Volume()</tspan><tspan x="2256" dy="15"># BuildUserLimits()</tspan><tspan x="2256" dy="15"># AttachUserLimits()</tspan><tspan x="2256" dy="15">- BDSAcceleratorComponent()</tspan><tspan x="2256" dy="15">- operator=()</tspan><tspan x="2256" dy="15">- BDSAcceleratorComponent()</tspan><tspan x="2256" dy="15">* name</tspan><tspan x="2256" dy="15">* arcLength</tspan><tspan x="2256" dy="15">* type</tspan><tspan x="2256" dy="15">* chordLength</tspan><tspan x="2256" dy="15">* angle</tspan><tspan x="2256" dy="15">* region</tspan><tspan x="2256" dy="15">* lengthSafety</tspan><tspan x="2256" dy="15">* emptyMaterial</tspan><tspan x="2256" dy="15">* worldMaterial</tspan><tspan x="2256" dy="15">* checkOverlaps</tspan><tspan x="2256" dy="15">* sensitiveOuter</tspan><tspan x="2256" dy="15">* sensitiveVacuum</tspan><tspan x="2256" dy="15">* containerVisAttr</tspan><tspan x="2256" dy="15">* SetBiasVacuumList()</tspan><tspan x="2256" dy="15">* SetBiasMaterialList()</tspan><tspan x="2256" dy="15">* GetArcLength()</tspan><tspan x="2256" dy="15">* GetChordLength()</tspan><tspan x="2256" dy="15">* InputFaceNormal()</tspan><tspan x="2256" dy="15">* OutputFaceNormal()</tspan><tspan x="2256" dy="15">* AngledInputFace()</tspan><tspan x="2256" dy="15">* AngledOutputFace()</tspan><tspan x="2256" dy="15">* GetBiasVacuumList()</tspan><tspan x="2256" dy="15">* GetBiasMaterialList()</tspan><tspan x="2256" dy="15">* SetInputFaceNormal()</tspan><tspan x="2256" dy="15">* SetOutputFaceNormal()</tspan><tspan x="2256" dy="15">* operator=()</tspan><tspan x="2256" dy="15">* BDSAcceleratorComponent()</tspan></text></g>

<g id="BDSCollimator"><rect class="b" x="2128" y="5129" width="211" height="645"/><path class="l" d="M2128,5153H2339M2128,5375H2339"/><text class="c" x="2233" y="5147">BDSCollimator</text>
<text y="5169"><tspan x="2139"># horizontalWidth</tspan><tspan x="2139" dy="15"># collimatorMaterial</tspan><tspan x="2139" dy="15"># vacuumMaterial</tspan><tspan x="2139" dy="15"># xAperture</tspan><tspan x="2139" dy="15"># yAperture</tspan><tspan x="2139" dy="15"># xApertureOut</tspan><tspan x="2139" dy="15"># yApertureOut</tspan><tspan x="2139" dy="15"># tapered</tspan><tspan x="2139" dy="15"># colour</tspan><tspan x="2139" dy="15"># minKineticEnergy</tspan><tspan x="2139" dy="15"># circularOuter</tspan><tspan x="2139" dy="15"># collimatorSolid</tspan><tspan x="2139" dy="15"># innerSolid</tspan><tspan x="2139" dy="15"># vacuumSolid</tspan></text>
<text y="5391"><tspan x="2139">+ BDSCollimator()</tspan><tspan x="2139" dy="15">+ ~BDSCollimator()</tspan><tspan x="2139" dy="15">+ SetMinimumKineticEnergy()</tspan><tspan x="2139" dy="15">+ Material()</tspan><tspan x="2139" dy="15">+ XApertureIn()</tspan><tspan x="2139" dy="15">+ XApertureOut()</tspan><tspan x="2139" dy="15">+ YApertureIn()</tspan><tspan x="2139" dy="15">+ YApertureOut()</tspan><tspan x="2139" dy="15"># CheckParameters()</tspan><tspan x="2139" dy="15"># Build()</tspan><tspan x="2139" dy="15"># BuildContainerLogicalVolume()</tspan><tspan x="2139" dy="15"># BuildInnerCollimator()</tspan><tspan x="2139" dy="15"># CollimatorUserLimits()</tspan><tspan x="2139" dy="15">- BDSCollimator()</tspan><tspan x="2139" dy="15">- operator=()</tspan><tspan x="2139" dy="15">- BDSCollimator()</tspan><tspan x="2139" dy="15">* collimatorSolid</tspan><tspan x="2139" dy="15">* innerSolid</tspan><tspan x="2139" dy="15">* vacuumSolid</tspan><tspan x="2139" dy="15">* Material()</tspan><tspan x="2139" dy="15">* XApertureIn()</tspan><tspan x="2139" dy="15">* XApertureOut()</tspan><tspan x="2139" dy="15">* YApertureIn()</tspan><tspan x="2139" dy="15">* YApertureOut()</tspan><tspan x="2139" dy="15">* operator=()</tspan><tspan x="2139" dy="15">* BDSCollimator()</tspan></text></g>

<g id="BDSSimpleComponent"><rect class="b" x="2363" y="5361" width="210" height="181"/><path class="l" d="M2363,5387H2573M2363,5413H2573"/><text class="c" x="2468" y="5379">BDSSimpleComponent</text>
<text y="5429"><tspan x="2374">+ BDSSimpleComponent()</tspan><tspan x="2374" dy="15">+ BDSSimpleComponent()</tspan><tspan x="2374" dy="15">+ ~BDSSimpleComponent()</tspan><tspan x="2374" dy="15">+ BDSSimpleComponent()</tspan><tspan x="2374" dy="15">+ operator=()</tspan><tspan x="2374" dy="15">+ BDSSimpleComponent()</tspan><tspan x="2374" dy="15"># Build()</tspan><tspan x="2374" dy="15"># BuildContainerLogicalVolume()</tspan></text></g>

<g id="BDSCollimatorRectangular"><rect class="h" x="2130" y="5826" width="207" height="182"/><path class="l" d="M2130,5851H2337M2130,5877H2337"/><text class="c" x="2233" y="5844">BDSCollimatorRectangular</text>
<text y="5893"><tspan x="2141">+ BDSCollimatorRectangular()</tspan><tspan x="2141" dy="15">+ ~BDSCollimatorRectangular()</tspan><tspan x="2141" dy="15">+ BuildInnerCollimator()</tspan><tspan x="2141" dy="15">- BDSCollimatorRectangular()</tspan><tspan x="2141" dy="15">- operator=()</tspan><tspan x="2141" dy="15">- BDSCollimatorRectangular()</tspan><tspan x="2141" dy="15">* operator=()</tspan><tspan x="2141" dy="15">* BDSCollimatorRectangular()</tspan></text></g>
</svg>
